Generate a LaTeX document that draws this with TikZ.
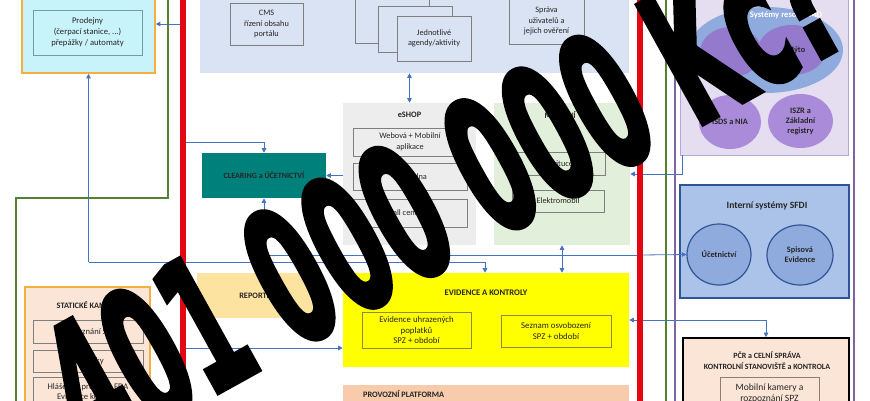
\documentclass[tikz,border=0pt]{standalone}
\usepackage{fontspec}
\usepackage{graphicx}
\setmainfont{Carlito}
\newfontfamily\ovlfont{DejaVu Sans}[FakeBold=3.5]
\usetikzlibrary{arrows.meta,shapes.geometric}
\definecolor{bl}{HTML}{4472C4}
\definecolor{rd}{HTML}{E30613}
\definecolor{gn}{HTML}{548235}
\definecolor{pu}{HTML}{8064A2}
\definecolor{toppanel}{HTML}{DAE3F3}
\definecolor{gry}{HTML}{7F7F7F}
\definecolor{eshopc}{HTML}{EDEDED}
\definecolor{grp}{HTML}{E2EFDA}
\definecolor{clrc}{HTML}{00807A}
\definecolor{yel}{HTML}{FFFF00}
\definecolor{yelb}{HTML}{8C8C3C}
\definecolor{rep}{HTML}{FDE3A0}
\definecolor{prov}{HTML}{F8CBAD}
\definecolor{peach}{HTML}{FBE5D6}
\definecolor{orng}{HTML}{F4B03F}
\definecolor{cyanf}{HTML}{C9F3FA}
\definecolor{prodb}{HTML}{6F9FA8}
\definecolor{syspanel}{HTML}{E4DEF0}
\definecolor{sysborder}{HTML}{B4A7D6}
\definecolor{sysb}{HTML}{8FAADC}
\definecolor{purp}{HTML}{9479CD}
\definecolor{purl}{HTML}{A98BD9}
\definecolor{intf}{HTML}{ABC3E8}
\definecolor{intb}{HTML}{2F5597}
\definecolor{ellb}{HTML}{8FAADC}
\definecolor{txtc}{HTML}{262626}
\begin{document}
\begin{tikzpicture}[x=1pt,y=-1pt,
  txt/.style={font=\fontsize{8.3}{10.5}\selectfont, align=center, text=txtc},
  bx/.style={txt, draw=gry, line width=0.6pt, inner sep=1pt},
  panel/.style={inner sep=0pt, line width=0.6pt},
  ttl/.style={font=\bfseries\fontsize{8.3}{10}\selectfont, text=txtc, inner sep=0pt, align=center},
  ell/.style={ellipse, inner sep=0pt, align=center, font=\bfseries\fontsize{8.3}{10}\selectfont, text=txtc},
  ar/.style={draw=bl, line width=0.8pt, -{Triangle[length=4.5pt,width=4.5pt]}},
  dar/.style={draw=bl, line width=0.8pt, {Triangle[length=4.5pt,width=4.5pt]}-{Triangle[length=4.5pt,width=4.5pt]}},
  redline/.style={draw=rd, line width=5.5pt},
  grline/.style={draw=gn, line width=2.2pt},
  puline/.style={draw=pu, line width=1.1pt}
]
\useasboundingbox (0,0) rectangle (870,400);
\clip (0,0) rectangle (870,400);
\fill[white] (0,0) rectangle (870,400);

% ---- top-left: obchodni mista
\node[panel, draw=orng, line width=1.6pt, fill=cyanf, minimum width=133pt, minimum height=95pt] (obch) at (88.5,25.5) {};
\node[ttl] (obchT) at (88.5,-4) {OBCHODNÍ MÍSTA};
\node[bx, draw=prodb, fill=cyanf, minimum width=109pt, minimum height=45pt, font=\fontsize{8.6}{11}\selectfont] (prod) at (87.5,32.5) {Prodejny\\(čerpací stanice, ...)\\přepážky / automaty};

% ---- top panel portal
\node[panel, fill=toppanel, minimum width=429pt, minimum height=80pt] (top) at (414.5,33) {};
\node[bx, fill=toppanel, minimum width=73pt, minimum height=42pt] (cms) at (266.5,24) {CMS\\řízení obsahu\\portálu};
\node[bx, fill=toppanel, minimum width=74pt, minimum height=48pt] (ag1) at (392,19) {};
\node[bx, fill=toppanel, minimum width=74pt, minimum height=46pt] (ag2) at (415,29) {};
\node[bx, fill=toppanel, minimum width=74pt, minimum height=45pt] (ag3) at (434,38.5) {Jednotlivé\\agendy/aktivity};
\node[bx, fill=toppanel, minimum width=75pt, minimum height=46pt] (sprava) at (546.5,21) {Správa\\uživatelů a\\jejich ověření};

% ---- eshop
\node[panel, fill=eshopc, minimum width=133pt, minimum height=142pt] (eshop) at (409.5,174) {};
\node[ttl] (eshopT) at (409.5,115) {eSHOP};
\node[bx, fill=eshopc, minimum width=114pt, minimum height=28pt] (web) at (410,142) {Webová + Mobilní\\aplikace};
\node[bx, fill=eshopc, minimum width=114pt, minimum height=27pt] (podat) at (410,176.5) {Podatelna};
\node[bx, fill=eshopc, minimum width=114pt, minimum height=28pt] (call) at (410,213) {Call centrum};

% ---- green panel
\node[panel, fill=grp, minimum width=136pt, minimum height=142pt] (grp) at (562,174) {};
\node[ttl] (grpT) at (560,115) {MOBILNÍ};
\node[bx, fill=grp, minimum width=93pt, minimum height=23pt] (inst) at (558.5,163.5) {Instituce};
\node[bx, fill=grp, minimum width=92pt, minimum height=22pt] (elek) at (558,201) {Elektromobil};

% ---- clearing
\node[panel, fill=clrc, minimum width=124pt, minimum height=45pt, font=\bfseries\fontsize{8}{10}\selectfont, text=txtc] (clr) at (264,175.5) {CLEARING a ÚČETNICTVÍ};

% ---- reporting
\node[panel, fill=rep, minimum width=125pt, minimum height=45pt, font=\bfseries\fontsize{8.3}{10}\selectfont, text=txtc] (rep) at (259.5,295.5) {REPORTING};

% ---- evidence a kontroly
\node[panel, fill=yel, minimum width=286pt, minimum height=94pt] (ev) at (486,320) {};
\node[ttl, font=\bfseries\fontsize{8.6}{10}\selectfont] (evT) at (486,293) {EVIDENCE A KONTROLY};
\node[bx, draw=yelb, fill=yel, minimum width=109pt, minimum height=36pt, font=\fontsize{8.8}{10.5}\selectfont] (ev1) at (416.5,330) {Evidence uhrazených\\poplatků\\SPZ + období};
\node[bx, draw=yelb, fill=yel, minimum width=110pt, minimum height=32pt, font=\fontsize{8.8}{10.5}\selectfont] (ev2) at (556,331) {Seznam osvobození\\SPZ + období};

% ---- provozni platforma
\node[panel, fill=prov, minimum width=286pt, minimum height=25pt] (prov) at (486,397.5) {};
\node[ttl, anchor=west] (provT) at (363,394) {PROVOZNÍ PLATFORMA};

% ---- staticke
\node[panel, draw=orng, line width=1.5pt, fill=peach, minimum width=125pt, minimum height=123pt] (stat) at (87.5,348.5) {};
\node[ttl] (statT) at (88,305) {STATICKÉ KAMERY};
\node[bx, fill=peach, minimum width=110pt, minimum height=23pt, font=\fontsize{8.6}{10.5}\selectfont] (rozp) at (88,332) {Rozpoznání SPZ};
\node[bx, fill=peach, minimum width=110pt, minimum height=22pt, font=\fontsize{8.6}{10.5}\selectfont] (stts) at (88,361) {Statistiky};
\node[bx, fill=peach, minimum width=110pt, minimum height=30pt, font=\fontsize{8.6}{9.5}\selectfont] (hlas) at (88,392) {Hlášení o průjezdu EDA\\Evidence kontroly};

% ---- systemy resortu MD
\node[panel, draw=sysborder, fill=syspanel, minimum width=168pt, minimum height=162pt] (sys) at (764,74) {};
\node[ellipse, fill=sysb, minimum width=154pt, minimum height=86pt, inner sep=0pt] (sysE) at (766,50) {};
\node[font=\bfseries\fontsize{8.6}{10}\selectfont, text=white, inner sep=0pt] (sysT) at (786,15) {Systémy resortu MD};
\node[ell, fill=purp, minimum width=62pt, minimum height=50pt] (e1) at (731,52) {};
\node[ell, fill=purp, minimum width=68pt, minimum height=50pt] (myto) at (792,50) {\hspace*{8pt}Mýto};
\node[ell, fill=purl, minimum width=62pt, minimum height=54pt] (isds) at (730,122) {ISDS a NIA};
\node[ell, fill=purl, minimum width=65pt, minimum height=54pt] (iszr) at (800.5,121) {ISZR a\\Základní\\registry};

% ---- interni systemy SFDI
\node[panel, draw=intb, line width=1.5pt, fill=intf, minimum width=169pt, minimum height=113pt] (int) at (764.5,241.5) {};
\node[ttl, font=\bfseries\fontsize{9.6}{11}\selectfont] (intT) at (767,206) {Interní systémy SFDI};
\node[ell, draw=intb, line width=1.2pt, fill=ellb, minimum width=64pt, minimum height=61pt] (uc) at (719,254.5) {Účetnictví};
\node[ell, draw=intb, line width=1.2pt, fill=ellb, minimum width=66pt, minimum height=60pt] (spis) at (800,255) {Spisová\\Evidence};

% ---- PCR
\node[panel, draw=black, line width=1.6pt, fill=peach, minimum width=166pt, minimum height=72pt] (pcr) at (766,374) {};
\node[ttl, font=\bfseries\fontsize{8}{10.5}\selectfont] (pcrT) at (767,360.5) {PČR a CELNÍ SPRÁVA\\KONTROLNÍ STANOVIŠTĚ a KONTROLA};
\node[bx, draw=gry!80!brown, fill=peach, minimum width=99pt, minimum height=33pt, font=\fontsize{9.6}{11}\selectfont] (mob) at (769.5,393.5) {Mobilní kamery a\\rozpoznání SPZ};

% ---- connectors
\coordinate (j1) at (88.5,262);
\coordinate (j2) at (485,262);
\coordinate (r1) at (183,24);
\coordinate (r2) at (183,142);
\coordinate (r3) at (640,255);
\coordinate (r4) at (640,320);
\coordinate (r5) at (183,348);
\coordinate (c682) at (682,0);
\coordinate (j3) at (409.5,262);

\draw[dar] (top.south -| eshop.north) -- (eshop.north);
\draw[ar] (j1) -- (obch.south);
\draw[ar] (j1) -- (j2) -- (ev.north -| j2);
\draw[ar] (r1) -- (obch.east |- r1);
\draw[ar] (r2) -| (clr.north);
\draw[ar] (eshop.west |- clr.east) -- (clr.east);
\draw[ar] (r3) -| (clr.south);
\draw[ar] (r3) -- (uc.west);
\draw[dar] (eshop.south) -- (j3);
\draw[dar] (grp.south) -- (grp.south |- ev.north);
\draw[ar] (sys.south -| c682) |- (grp.east);
\draw[ar] (r4) -- (ev.east |- r4);
\draw[ar] (r4) -| (pcr.north);
\draw[ar] (r5) -- (ev.west |- r5);

% ---- frame lines
\draw[grline] (168,-5) -- (168,198) -- (16,198) -- (16,405);
\draw[grline] (666,-5) -- (666,405);
\draw[puline] (675,-5) -- (675,405);
\draw[puline] (854,-5) -- (854,405);
\draw[redline] (183,-5) -- (183,405);
\draw[redline] (640,-5) -- (640,405);

% ---- overlay
\node[anchor=base, rotate=29, inner sep=0pt, text=black] (ovl) at (474,250)
  {\scalebox{0.97}[1.9]{\ovlfont\bfseries\fontsize{97}{97}\selectfont 401 000 000 Kč?}};
\end{tikzpicture}
\end{document}
